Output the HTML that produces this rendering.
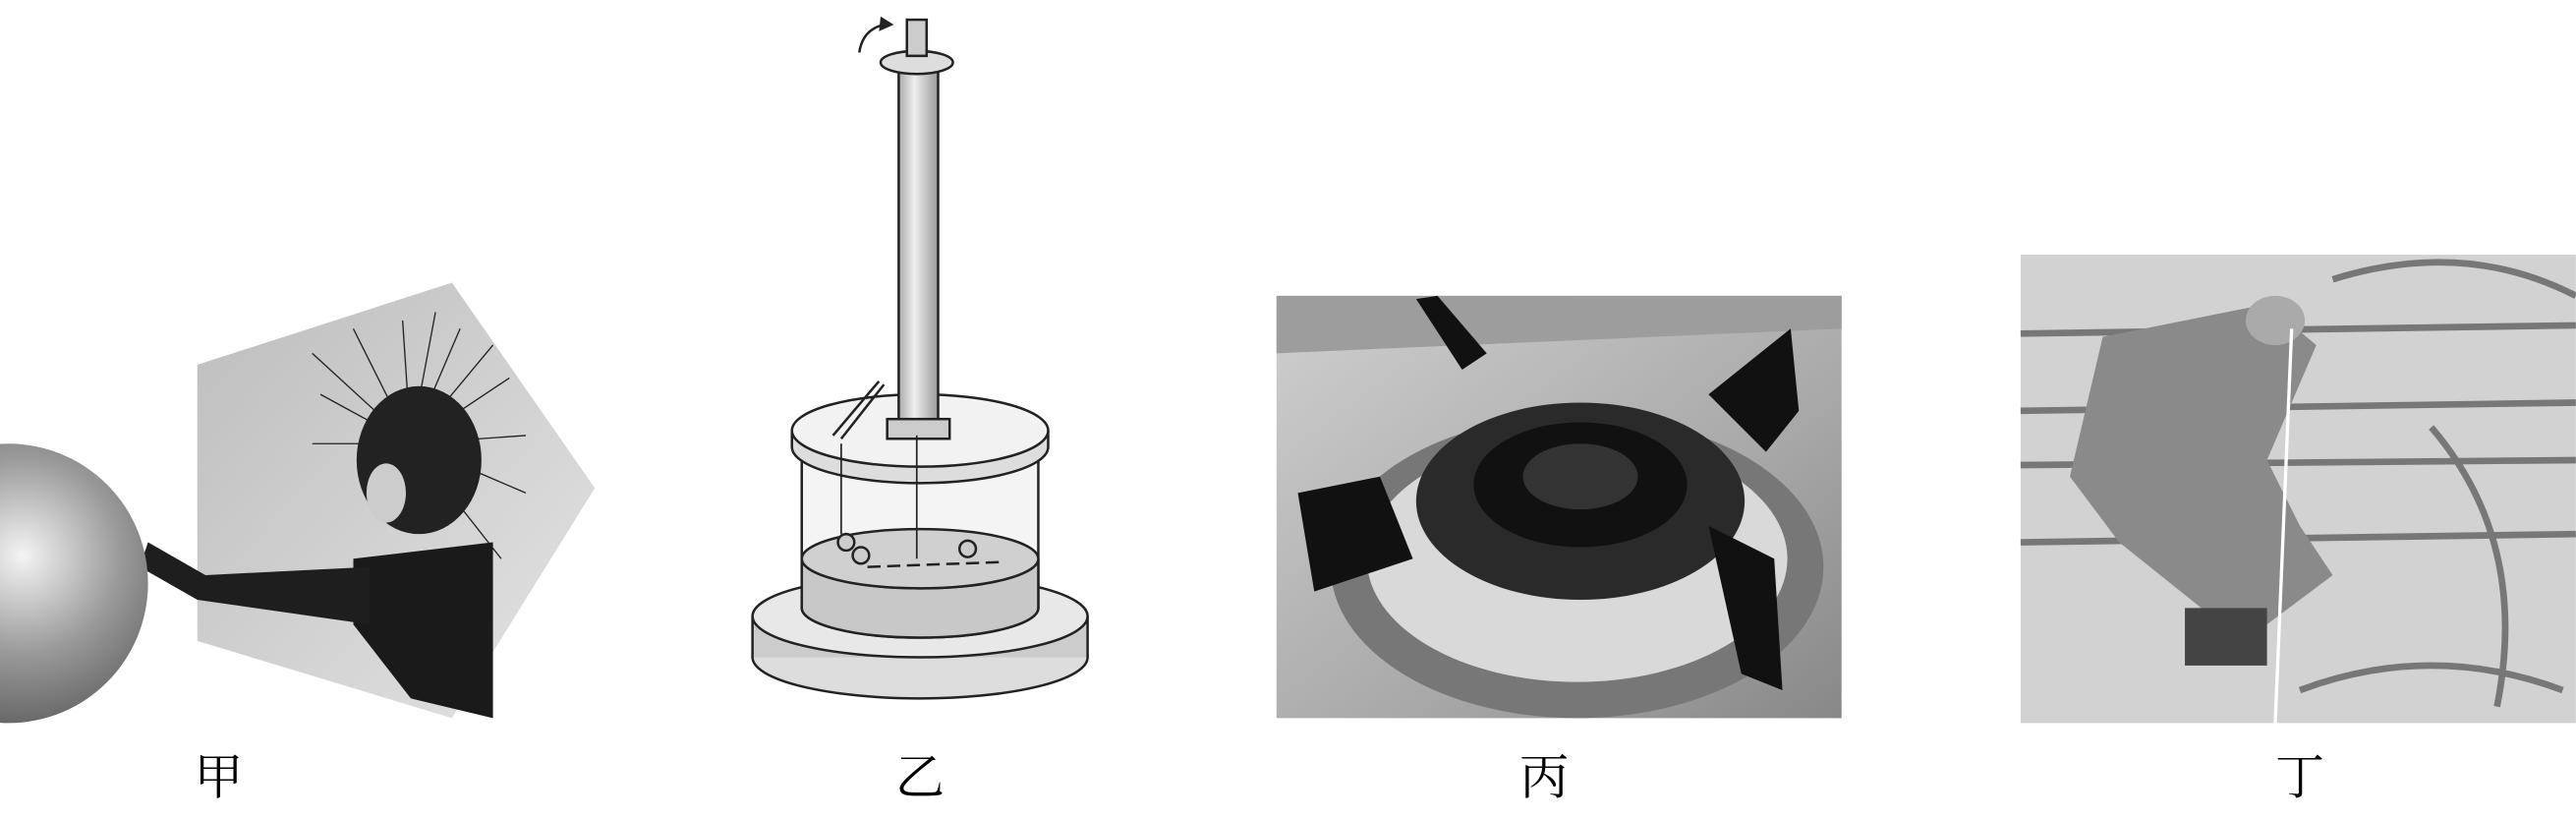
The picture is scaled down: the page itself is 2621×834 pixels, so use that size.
<!DOCTYPE html>
<html><head><meta charset="utf-8"><style>
html,body{margin:0;padding:0;background:#fff;}
svg{display:block}
</style></head><body>
<svg width="2621" height="834" viewBox="0 0 1568 499" xmlns="http://www.w3.org/2000/svg">
<defs>
<radialGradient id="sph" cx="0.55" cy="0.4" r="0.7">
<stop offset="0" stop-color="#f4f4f4"/><stop offset="0.5" stop-color="#9a9a9a"/><stop offset="1" stop-color="#555"/></radialGradient>
<linearGradient id="bg1" x1="0" y1="0" x2="1" y2="1"><stop offset="0" stop-color="#bdbdbd"/><stop offset="1" stop-color="#e4e4e4"/></linearGradient>
<linearGradient id="stove" x1="0" y1="0" x2="1" y2="1"><stop offset="0" stop-color="#cfcfcf"/><stop offset="0.6" stop-color="#a9a9a9"/><stop offset="1" stop-color="#888"/></linearGradient>
<linearGradient id="col" x1="0" x2="1"><stop offset="0" stop-color="#aaa"/><stop offset="0.4" stop-color="#eee"/><stop offset="1" stop-color="#999"/></linearGradient>
</defs>

<!-- 甲 -->
<polygon points="120,222 275,172 362,297 275,437 120,390" fill="url(#bg1)"/>
<g stroke="#222" stroke-width="0.8">
<line x1="250" y1="270" x2="190" y2="215"/><line x1="250" y1="270" x2="215" y2="200"/><line x1="250" y1="270" x2="245" y2="195"/>
<line x1="250" y1="270" x2="280" y2="200"/><line x1="250" y1="270" x2="310" y2="230"/><line x1="250" y1="270" x2="320" y2="265"/>
<line x1="250" y1="270" x2="320" y2="300"/><line x1="250" y1="270" x2="305" y2="340"/><line x1="250" y1="270" x2="195" y2="240"/>
<line x1="250" y1="270" x2="190" y2="270"/><line x1="250" y1="270" x2="265" y2="190"/><line x1="250" y1="270" x2="300" y2="210"/>
</g>
<ellipse cx="255" cy="280" rx="38" ry="45" fill="#222"/>
<ellipse cx="235" cy="300" rx="12" ry="18" fill="#ccc"/>
<path d="M215,340 L300,330 L300,437 L250,425 L215,380 Z" fill="#1a1a1a"/>
<path d="M90,330 L125,350 L225,345 L225,380 L120,365 L85,345 Z" fill="#1e1e1e"/>
<circle cx="5" cy="355" r="85" fill="url(#sph)"/>
<text x="133" y="483" font-family="Liberation Serif,Noto Serif CJK SC,serif" font-size="30" text-anchor="middle">甲</text>

<!-- 乙 -->
<g stroke="#222" stroke-width="1.5">
<ellipse cx="560" cy="400" rx="102" ry="25" fill="#ddd"/>
<rect x="458" y="375" width="204" height="25" fill="#ccc" stroke="none"/>
<line x1="458" y1="375" x2="458" y2="400"/><line x1="662" y1="375" x2="662" y2="400"/>
<ellipse cx="560" cy="375" rx="102" ry="25" fill="#e8e8e8"/>
<path d="M488,280 L488,370 A72,18 0 0 0 632,370 L632,280" fill="#f4f4f4"/>
<path d="M488,340 L488,370 A72,18 0 0 0 632,370 L632,340 A72,18 0 0 1 488,340 Z" fill="#c8c8c8"/>
<ellipse cx="560" cy="340" rx="72" ry="18" fill="#d0d0d0"/>
<path d="M482,262 L482,272 A78,22 0 0 0 638,272 L638,262" fill="#ddd"/>
<ellipse cx="560" cy="262" rx="78" ry="22" fill="#f2f2f2"/>
<rect x="547" y="42" width="24" height="215" fill="url(#col)"/>
<rect x="540" y="255" width="38" height="12" fill="#ccc"/>
<ellipse cx="558" cy="38" rx="22" ry="7" fill="#ddd"/>
<rect x="552" y="12" width="12" height="22" fill="#ccc"/>
<line x1="507" y1="265" x2="535" y2="232"/><line x1="512" y1="267" x2="538" y2="234"/>
<line x1="558" y1="265" x2="558" y2="340" stroke-width="1"/>
<line x1="512" y1="270" x2="512" y2="325" stroke-width="1"/>
<circle cx="515" cy="330" r="5" fill="#ccc"/><circle cx="524" cy="338" r="5" fill="#ccc"/><circle cx="589" cy="334" r="5" fill="#ccc"/>
<line x1="528" y1="345" x2="610" y2="342" stroke-dasharray="8,4"/>
</g>
<path d="M523,32 Q525,18 538,15" fill="none" stroke="#222" stroke-width="1.5"/>
<polygon points="536,10 544,15 535,19" fill="#222"/>
<text x="560" y="483" font-family="Liberation Serif,Noto Serif CJK SC,serif" font-size="30" text-anchor="middle">乙</text>

<!-- 丙 -->
<rect x="777" y="180" width="344" height="257" fill="url(#stove)"/>
<polygon points="777,180 1121,180 1121,200 777,215" fill="#9d9d9d"/>
<ellipse cx="960" cy="345" rx="150" ry="92" fill="#777"/>
<ellipse cx="960" cy="340" rx="128" ry="75" fill="#d9d9d9"/>
<ellipse cx="962" cy="305" rx="100" ry="60" fill="#2a2a2a"/>
<ellipse cx="962" cy="295" rx="65" ry="38" fill="#111"/>
<ellipse cx="962" cy="290" rx="35" ry="20" fill="#333"/>
<path d="M862,182 L875,180 L905,215 L890,225 Z" fill="#111"/>
<path d="M1040,240 L1090,200 L1095,250 L1075,275 Z" fill="#111"/>
<path d="M790,300 L840,290 L860,340 L800,360 Z" fill="#111"/>
<path d="M1040,320 L1080,340 L1085,420 L1060,410 Z" fill="#111"/>
<text x="940" y="483" font-family="Liberation Serif,Noto Serif CJK SC,serif" font-size="30" text-anchor="middle">丙</text>

<!-- 丁 -->
<rect x="1230" y="155" width="338" height="285" fill="#d2d2d2"/>
<g stroke="#777" stroke-width="4" fill="none">
<line x1="1230" y1="203" x2="1568" y2="198"/><line x1="1230" y1="250" x2="1568" y2="245"/>
<line x1="1230" y1="283" x2="1568" y2="280"/><line x1="1230" y1="330" x2="1568" y2="325"/>
<path d="M1420,170 Q1500,145 1568,180"/><path d="M1400,420 Q1480,390 1560,420"/>
<path d="M1480,260 Q1540,330 1520,430"/>
</g>
<path d="M1280,205 L1380,185 L1410,210 L1380,280 L1400,320 L1420,350 L1380,380 L1340,370 L1290,330 L1260,290 Z" fill="#8a8a8a"/>
<ellipse cx="1385" cy="195" rx="18" ry="15" fill="#aaa"/>
<rect x="1330" y="370" width="50" height="35" fill="#444"/>
<line x1="1395" y1="200" x2="1385" y2="440" stroke="#fff" stroke-width="2"/>
<text x="1400" y="483" font-family="Liberation Serif,Noto Serif CJK SC,serif" font-size="30" text-anchor="middle">丁</text>
</svg>
</body></html>
